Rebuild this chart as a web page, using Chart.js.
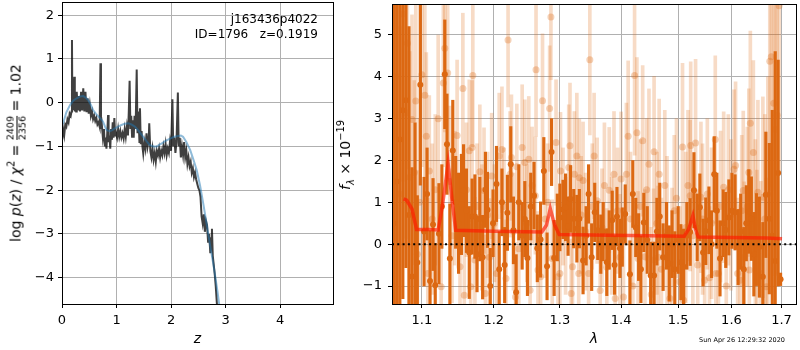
<!DOCTYPE html>
<html>
<head>
<meta charset="utf-8">
<script src="https://cdn.jsdelivr.net/npm/chart.js@4.4.0/dist/chart.umd.min.js"></script>
<style>
  body { margin: 0; background: #fff; font-family: "DejaVu Sans", sans-serif; }
  #wrap { position: relative; width: 800px; height: 350px; overflow: hidden; }
  canvas { position: absolute; top: 0; }
  .lab { position: absolute; white-space: nowrap; color: #000; }
  .rot { transform: translate(-50%, -50%) rotate(-90deg); }
  sup, sub { font-size: 70%; line-height: 0; }
  .frac { display: inline-block; vertical-align: middle; font-size: 9.5px; line-height: 1; text-align: center; }
  .frac span { display: block; }
  .frac span:first-child { border-bottom: 1px solid #000; padding-bottom: 1px; }
</style>
</head>
<body>
<div id="wrap">
  <canvas id="pz" width="340" height="350" style="left:0"></canvas>
  <canvas id="spec" width="460" height="350" style="left:340px"></canvas>
  <div class="lab rot" style="left:16px;top:153px;font-size:14px">log <i>p</i>(<i>z</i>) / <i>χ</i><sup>2</sup> = <span class="frac"><span>2409</span><span>2356</span></span> = 1.02</div>
  <div class="lab rot" style="left:345px;top:155px;font-size:14px"><i>f</i><sub><i>λ</i></sub> × 10<sup>−19</sup></div>
  <div class="lab" style="right:482px;top:12px;font-size:12px;line-height:15px;text-align:right;white-space:pre">j163436p4022
ID=1796   z=0.1919</div>
  <div class="lab" style="left:742px;top:340px;font-size:6.5px;transform:translate(-50%,-50%)">Sun Apr 26 12:29:32 2020</div>
</div>
<script>
// p(z) panel: noisy chi2 curve and smoothed prior-weighted curve
const zPz = [0.00,0.02,0.04,0.06,0.08,0.10,0.12,0.14,0.16,0.175,
  0.183,0.19,0.20,0.21,0.225,0.235,0.25,0.26,0.27,0.29,
  0.31,0.33,0.35,0.37,0.39,0.41,0.43,0.45,0.47,0.49,
  0.51,0.53,0.55,0.57,0.59,0.61,0.63,0.65,0.67,0.69,
  0.705,0.715,0.73,0.75,0.77,0.785,0.80,0.815,0.83,0.845,
  0.855,0.87,0.885,0.90,0.915,0.93,0.945,0.96,0.975,0.99,
  1.01,1.03,1.05,1.07,1.09,1.11,1.13,1.15,1.17,1.19,
  1.21,1.225,1.24,1.255,1.27,1.285,1.30,1.315,1.33,1.35,
  1.37,1.385,1.40,1.42,1.43,1.445,1.46,1.475,1.49,1.51,
  1.53,1.55,1.57,1.59,1.60,1.62,1.64,1.66,1.68,1.70,
  1.72,1.74,1.76,1.78,1.80,1.82,1.84,1.86,1.88,1.90,
  1.92,1.94,1.96,1.98,2.00,2.025,2.04,2.06,2.08,2.10,
  2.125,2.14,2.16,2.18,2.20,2.22,2.24,2.26,2.28,2.30,
  2.32,2.34,2.36,2.38,2.40,2.42,2.44,2.46,2.48,2.50,
  2.52,2.54,2.56,2.58,2.60,2.62,2.64,2.66,2.68,2.70,
  2.72,2.74,2.75,2.765,2.78,2.80,2.82,2.84,2.86];
const logpPz = [-0.85,-0.6,-0.75,-0.5,-0.55,-0.38,-0.45,-0.25,-0.3,-0.2,
  1.43,-0.15,0.45,-0.15,0.59,-0.2,0.1,-0.2,0.25,-0.18,
  0.15,-0.2,0.25,-0.18,0.33,-0.2,0.25,-0.22,0.1,-0.25,
  -0.05,-0.3,-0.2,-0.38,-0.3,-0.42,-0.35,-0.5,-0.45,-0.55,
  0.9,-0.6,-0.5,-0.8,-0.6,-1.0,-0.8,-1.05,-0.7,-0.28,
  -0.9,-0.75,-1.05,-0.6,-0.85,-0.45,-0.8,-0.35,-0.75,-0.7,
  -0.8,-0.6,-0.78,-0.65,-0.8,-0.7,-0.82,-0.6,-0.78,-0.55,
  -0.75,-0.2,0.5,-0.6,-0.3,-0.78,-0.4,-0.8,-0.3,-0.6,
  0.76,-0.7,-0.2,-0.9,-0.13,-0.95,-0.65,-1.0,-1.16,-0.9,
  -1.05,-0.7,-1.0,-0.85,-0.47,-1.1,-1.25,-1.05,-1.3,-1.15,
  -1.35,-1.1,-1.2,-1.05,-1.25,-1.1,-1.2,-1.0,-1.15,-0.95,
  -1.2,-1.05,-1.15,-0.9,-1.1,0.08,-1.0,-0.8,-1.15,-0.9,
  0.23,-1.0,-0.8,-1.25,-1.0,-1.2,-0.9,-1.25,-1.1,-1.4,
  -1.25,-1.45,-1.35,-1.6,-1.5,-1.7,-1.6,-1.75,-1.85,-1.95,
  -2.0,-2.15,-2.6,-2.76,-2.55,-2.95,-2.7,-2.8,-3.2,-3.0,
  -3.44,-3.1,-2.88,-3.5,-3.67,-3.9,-4.2,-4.58,-4.9];
const zSmooth = [0.00,0.02,0.08,0.15,0.21,0.27,0.33,0.39,0.44,0.48,
  0.53,0.57,0.62,0.67,0.72,0.75,0.79,0.82,0.88,0.93,
  0.97,1.03,1.09,1.15,1.22,1.28,1.34,1.41,1.49,1.55,
  1.61,1.68,1.74,1.79,1.83,1.90,1.98,2.06,2.13,2.18,
  2.22,2.28,2.35,2.41,2.47,2.53,2.59,2.65,2.72,2.77,
  2.81,2.85,2.88,2.90];
const logpSmooth = [-0.50,-0.47,-0.22,-0.05,0.05,0.10,0.14,0.15,0.11,0.06,
  -0.05,-0.17,-0.25,-0.32,-0.38,-0.43,-0.55,-0.63,-0.65,-0.62,
  -0.59,-0.55,-0.51,-0.48,-0.47,-0.50,-0.55,-0.65,-0.78,-0.88,
  -0.97,-1.0,-1.0,-0.96,-0.93,-0.87,-0.82,-0.78,-0.76,-0.75,
  -0.78,-0.9,-1.08,-1.3,-1.54,-1.88,-2.3,-2.75,-3.29,-3.65,
  -3.97,-4.3,-4.58,-4.8];
const zTicks = [0, 1, 2, 3, 4];
const logpTicks = [-4, -3, -2, -1, 0, 1, 2];

// spectrum panel: good-quality points (dark) and all points (light)
const darkLam = [1.063,1.067,1.071,1.075,1.079,1.083,1.087,1.091,1.094,1.098,
  1.103,1.107,1.111,1.115,1.118,1.123,1.127,1.131,1.134,1.138,
  1.142,1.146,1.150,1.154,1.157,1.161,1.165,1.169,1.173,1.176,
  1.180,1.184,1.188,1.191,1.195,1.199,1.204,1.208,1.212,1.216,
  1.220,1.225,1.229,1.233,1.237,1.242,1.246,1.250,1.255,1.260,
  1.265,1.270,1.275,1.280,1.287,1.291,1.296,1.300,1.305,1.309,
  1.313,1.317,1.322,1.327,1.331,1.337,1.342,1.346,1.351,1.356,
  1.361,1.366,1.370,1.376,1.380,1.385,1.389,1.393,1.398,1.402,
  1.407,1.415,1.420,1.425,1.430,1.434,1.439,1.445,1.451,1.457,
  1.462,1.467,1.473,1.479,1.484,1.489,1.494,1.500,1.505,1.510,
  1.516,1.522,1.529,1.535,1.540,1.546,1.551,1.557,1.562,1.567,
  1.572,1.578,1.584,1.589,1.595,1.601,1.607,1.613,1.618,1.624,
  1.629,1.634,1.639,1.644,1.649,1.655,1.662,1.668,1.675,1.681,
  1.687,1.693,1.698];
const darkFlux = [0.5,1.5,2.5,3.2,3.44,0.7,-0.77,0.70,-0.44,3.81,
  0.30,1.20,-0.88,0.47,-0.98,0.25,0.90,4.06,2.39,-0.34,
  2.24,1.00,0.50,0.95,1.28,0.80,-0.20,0.66,0.66,-0.24,
  0.60,-0.31,1.30,0.82,-1.00,0.50,1.44,-0.60,1.00,-0.50,
  0.75,1.91,0.33,-1.15,1.00,0.20,0.60,-0.33,0.90,1.16,
  -0.10,0.11,1.75,-0.53,2.20,-0.33,0.40,0.64,0.83,0.88,
  0.43,1.08,0.61,0.37,0.61,-0.39,0.20,1.20,-0.31,0.76,
  0.33,0.00,0.30,-0.43,0.10,0.57,-0.50,0.66,-0.10,0.17,
  0.72,-0.72,1.20,0.40,-0.07,-0.60,0.52,0.10,-0.75,-0.75,
  0.30,0.66,-0.31,0.20,-0.46,0.00,-0.60,0.10,-0.43,-0.54,
  0.20,0.29,1.29,0.40,0.88,-0.20,0.31,0.57,0.00,1.67,
  0.80,-0.34,0.50,0.34,0.64,0.80,0.76,-0.07,0.30,-0.60,
  0.50,0.78,0.61,-0.24,0.11,-0.07,-0.78,1.18,0.61,0.20,
  -0.40,1.70,-0.84];
const darkErr = [6,6,5,4.5,4.0,4.5,2.6,2.2,1.6,2.4,
  1.3,1.1,1.2,1.1,1.0,1.2,1.0,1.3,1.2,1.3,
  1.2,1.1,1.2,1.2,1.1,1.0,1.1,0.9,1.0,0.9,
  1.0,1.0,0.9,0.9,0.9,0.8,0.9,0.9,0.8,0.9,
  0.9,0.9,0.8,0.9,0.9,0.8,0.9,0.9,0.8,0.8,
  0.8,0.9,0.8,0.8,0.8,0.9,0.8,0.8,0.7,0.8,
  0.7,0.8,0.7,0.8,0.7,0.8,0.7,0.7,0.8,0.7,
  0.7,0.7,0.7,0.8,0.7,0.7,0.7,0.7,0.7,0.7,
  0.7,0.8,0.8,0.7,0.8,0.8,0.7,0.8,0.8,0.8,
  0.8,0.8,0.8,0.8,0.9,0.8,0.9,0.8,0.9,0.9,
  0.8,0.8,0.9,0.8,0.8,0.8,0.8,0.8,0.8,0.9,
  0.9,0.9,0.8,0.9,0.9,0.9,0.9,0.9,0.9,1.0,
  0.9,1.0,1.0,1.0,1.1,1.2,1.3,1.5,1.8,3.0,
  5.0,2.7,0.15];

const lightLam = [1.063,1.067,1.071,1.075,1.079,1.081,1.084,1.087,1.090,1.092,
  1.094,1.097,1.100,1.104,1.106,1.108,1.110,1.114,1.118,1.122,
  1.126,1.129,1.131,1.135,1.138,1.141,1.145,1.148,1.152,1.156,
  1.158,1.161,1.165,1.167,1.169,1.170,1.173,1.176,1.180,1.183,
  1.186,1.188,1.191,1.194,1.197,1.201,1.204,1.208,1.212,1.215,
  1.218,1.221,1.224,1.226,1.229,1.232,1.234,1.237,1.242,1.246,
  1.249,1.252,1.254,1.257,1.262,1.263,1.266,1.270,1.273,1.277,
  1.281,1.284,1.286,1.288,1.294,1.297,1.300,1.301,1.305,1.309,
  1.314,1.316,1.318,1.320,1.323,1.327,1.330,1.331,1.334,1.337,
  1.341,1.346,1.348,1.352,1.355,1.360,1.365,1.368,1.372,1.376,
  1.380,1.384,1.388,1.390,1.394,1.398,1.400,1.404,1.409,1.412,
  1.416,1.420,1.423,1.427,1.429,1.433,1.437,1.441,1.444,1.448,
  1.452,1.456,1.457,1.462,1.464,1.466,1.470,1.476,1.480,1.485,
  1.489,1.493,1.497,1.503,1.508,1.510,1.514,1.518,1.522,1.523,
  1.527,1.532,1.536,1.542,1.545,1.549,1.554,1.558,1.562,1.569,
  1.570,1.575,1.579,1.585,1.590,1.594,1.599,1.605,1.608,1.612,
  1.617,1.620,1.623,1.625,1.631,1.634,1.635,1.637,1.643,1.647,
  1.650,1.652,1.658,1.662,1.666,1.669,1.672,1.676,1.679,1.684,
  1.687,1.691,1.695];
const lightFlux = [2.0,4.0,1.2,5.5,3.14,4.8,1.6,2.98,1.71,3.42,
  -0.24,1.0,4.05,3.56,2.58,-0.70,1.75,0.6,1.3,3.0,
  -1.02,3.85,4.68,4.09,1.5,0.2,1.1,2.6,-0.54,3.72,
  -1.22,1.3,2.23,-1.02,2.31,4.03,-0.38,0.9,1.73,0.4,
  1.28,-1.18,0.7,-0.31,1.63,0.5,-0.70,2.11,2.26,0.9,
  -0.82,4.88,1.67,2.07,0.3,-1.26,1.85,-0.11,2.31,1.95,
  0.5,2.03,-1.10,1.40,1.16,4.17,-0.62,-0.78,3.43,0.6,
  1.0,3.24,5.43,-0.34,2.43,-0.78,-0.70,1.75,0.9,0.2,
  1.83,2.35,-1.18,-0.54,1.67,2.11,-0.70,1.59,0.7,1.52,
  0.3,-0.70,4.41,0.9,2.11,1.04,-1.11,0.4,1.4,-0.55,
  1.29,0.2,1.67,-1.30,0.8,-0.31,1.56,-1.26,1.67,2.58,
  0.6,-1.0,4.03,2.66,-0.34,0.9,2.47,-0.3,1.3,1.91,
  -1.2,-0.38,2.21,0.5,-0.31,1.67,-0.6,1.40,0.3,-1.3,
  -0.46,0.8,1.1,-0.9,2.32,-1.34,0.4,1.40,1.16,2.36,
  0.2,2.42,-0.5,1.12,0.6,-0.86,1.2,-0.8,0.5,2.5,
  -0.70,-0.70,0.9,1.36,-1.0,1.3,0.7,1.79,1.88,-0.7,
  -0.86,0.8,1.28,-0.31,0.9,1.71,-0.62,2.89,2.19,0.5,
  -0.23,1.24,-0.70,1.12,0.6,-1.02,1.2,4.37,4.48,3.37,
  2.74,3.08,5.7];
const lightErr = [5,4,4,4,3,3,3,2.5,2.2,2.4,
  2.0,2.0,2.2,2.2,2.0,1.8,1.8,1.8,1.8,2.0,
  1.6,2.0,2.0,1.8,1.8,1.6,1.6,1.8,1.6,1.8,
  1.5,1.6,1.7,1.5,1.6,1.7,1.5,1.5,1.6,1.5,
  1.5,1.4,1.5,1.4,1.5,1.4,1.4,1.5,1.5,1.4,
  1.4,1.6,1.5,1.5,1.4,1.3,1.5,1.4,1.5,1.5,
  1.4,1.5,1.3,1.4,1.4,1.6,1.4,1.3,1.6,1.4,
  1.4,1.5,1.5,1.4,1.5,1.4,1.3,1.4,1.4,1.4,
  1.5,1.5,1.3,1.4,1.5,1.5,1.4,1.4,1.4,1.4,
  1.4,1.4,1.8,1.5,1.5,1.5,1.4,1.4,1.5,1.4,
  1.5,1.4,1.5,1.4,1.5,1.5,1.6,1.5,1.7,1.8,
  1.6,1.5,1.9,1.8,1.6,1.6,1.8,1.6,1.7,1.8,
  1.6,1.7,1.8,1.7,1.7,1.8,1.7,1.8,1.8,1.7,
  1.8,1.8,1.9,1.8,2.0,1.7,1.8,1.8,1.8,2.0,
  1.8,2.0,1.8,1.8,1.8,1.7,1.8,1.7,1.8,2.0,
  1.7,1.7,1.8,1.8,1.6,1.8,1.8,1.9,2.0,1.8,
  1.8,1.8,1.9,1.8,1.9,2.0,1.9,2.2,2.2,2.0,
  2.0,2.2,2.2,2.4,2.5,2.6,2.8,3.0,3.2,3.5,
  3.5,3.8,4.0];

// emission-line model
const modelLam = [1.076,1.080,1.087,1.093,1.110,1.122,1.128,1.1355,1.141,1.146,
  1.20,1.272,1.279,1.285,1.292,1.299,1.35,1.45,1.511,1.519,
  1.527,1.532,1.537,1.60,1.67,1.701];
const modelFlux = [1.08,1.05,0.84,0.35,0.35,0.34,0.95,1.93,1.05,0.33,
  0.31,0.29,0.45,0.85,0.45,0.23,0.22,0.20,0.19,0.35,
  0.68,0.35,0.17,0.16,0.15,0.13];
const lamTicks = [1.1, 1.2, 1.3, 1.4, 1.5, 1.6, 1.7];
const fluxTicks = [-1, 0, 1, 2, 3, 4, 5];

Chart.defaults.font.family = '"DejaVu Sans", sans-serif';
Chart.defaults.font.size = 13;
Chart.defaults.color = '#000';

const minus = (v) => (v < 0 ? '\u2212' + Math.abs(v) : '' + v);

// matplotlib-style box around the axes
const frame = {
  id: 'frame',
  afterDraw(chart) {
    const a = chart.chartArea, ctx = chart.ctx;
    ctx.save();
    ctx.strokeStyle = '#000';
    ctx.lineWidth = 1;
    ctx.strokeRect(a.left + 0.5, a.top + 0.5, a.right - a.left, a.bottom - a.top);
    ctx.restore();
  }
};

function fixAxis(size) {
  return (s) => {
    if (s.isHorizontal()) s.height = size; else s.width = size;
    s.paddingTop = s.paddingBottom = s.paddingLeft = s.paddingRight = 0;
  };
}

function pts(xs, ys) {
  return xs.map((x, i) => ({ x: x, y: ys[i] }));
}

new Chart(document.getElementById('pz'), {
  type: 'scatter',
  data: {
    datasets: [
      {
        data: pts(zSmooth, logpSmooth),
        showLine: true, pointRadius: 0,
        borderColor: 'rgba(31,119,180,0.5)', borderWidth: 2
      },
      {
        data: pts(zPz, logpPz),
        showLine: true, pointRadius: 0,
        borderColor: 'rgba(0,0,0,0.75)', borderWidth: 2
      }
    ]
  },
  options: {
    responsive: false, animation: false, devicePixelRatio: 1,
    layout: { padding: { left: 0, right: 7, top: 2, bottom: 0 } },
    plugins: { legend: { display: false }, tooltip: { enabled: false } },
    scales: {
      x: {
        type: 'linear', min: 0, max: 4.97,
        afterBuildTicks: (s) => { s.ticks = zTicks.map(v => ({ value: v })); },
        afterFit: fixAxis(46),
        ticks: { padding: 5, autoSkip: false, maxRotation: 0, callback: minus },
        grid: { color: '#b0b0b0', tickColor: '#000', tickLength: 4 },
        border: { display: false },
        title: { display: true, text: 'z', font: { size: 14, style: 'italic' }, padding: { top: 0, bottom: 2 } }
      },
      y: {
        type: 'linear', min: -4.6, max: 2.3,
        afterBuildTicks: (s) => { s.ticks = logpTicks.map(v => ({ value: v })); },
        afterFit: fixAxis(62),
        ticks: { padding: 4, autoSkip: false, callback: minus },
        grid: { color: '#b0b0b0', tickColor: '#000', tickLength: 4 },
        border: { display: false }
      }
    }
  },
  plugins: [frame]
});

const DARK = 'rgb(220,104,18)';

new Chart(document.getElementById('spec'), {
  type: 'bar',
  data: {
    datasets: [
      {
        type: 'line', order: 0,
        data: [{ x: 1.061, y: 0 }, { x: 1.73, y: 0 }],
        borderColor: '#000', borderWidth: 2, borderDash: [2, 3.3], pointRadius: 0
      },
      {
        type: 'line', order: 1,
        data: pts(modelLam, modelFlux),
        borderColor: 'rgba(255,25,0,0.65)', borderWidth: 3.5, pointRadius: 0, tension: 0
      },
      {
        type: 'line', order: 2, showLine: false,
        data: pts(darkLam, darkFlux),
        pointRadius: 3, pointBorderWidth: 0, pointBackgroundColor: DARK
      },
      {
        type: 'bar', order: 3, grouped: false, barThickness: 2.5,
        data: darkLam.map((l, i) => ({ x: l, y: [darkFlux[i] - darkErr[i], darkFlux[i] + darkErr[i]] })),
        backgroundColor: DARK, borderWidth: 0
      },
      {
        type: 'line', order: 4, showLine: false,
        data: pts(lightLam, lightFlux),
        pointRadius: 3.5, pointBorderWidth: 0, pointBackgroundColor: 'rgba(220,104,18,0.3)'
      },
      {
        type: 'bar', order: 5, grouped: false, barThickness: 3,
        data: lightLam.map((l, i) => ({ x: l, y: [lightFlux[i] - lightErr[i], lightFlux[i] + lightErr[i]] })),
        backgroundColor: 'rgba(220,104,18,0.24)', borderWidth: 0
      }
    ]
  },
  options: {
    responsive: false, animation: false, devicePixelRatio: 1,
    layout: { padding: { left: 0, right: 1, top: 2, bottom: 0 } },
    plugins: { legend: { display: false }, tooltip: { enabled: false } },
    scales: {
      x: {
        type: 'logarithmic', min: 1.061, max: 1.73, offset: false, z: 1,
        afterBuildTicks: (s) => { s.ticks = lamTicks.map(v => ({ value: v })); },
        afterFit: fixAxis(46),
        ticks: { padding: 5, autoSkip: false, maxRotation: 0, callback: (v) => v.toFixed(1) },
        grid: { offset: false, color: '#b0b0b0', tickColor: '#000', tickLength: 4 },
        border: { display: false },
        title: { display: true, text: 'λ', font: { size: 14, style: 'italic' }, padding: { top: 0, bottom: 2 } }
      },
      y: {
        type: 'linear', min: -1.43, max: 5.74, z: 1,
        afterBuildTicks: (s) => { s.ticks = fluxTicks.map(v => ({ value: v })); },
        afterFit: fixAxis(52),
        ticks: { padding: 6, autoSkip: false, callback: minus },
        grid: { color: '#b0b0b0', tickColor: '#000', tickLength: 4 },
        border: { display: false }
      }
    }
  },
  plugins: [frame]
});
</script>
</body>
</html>
